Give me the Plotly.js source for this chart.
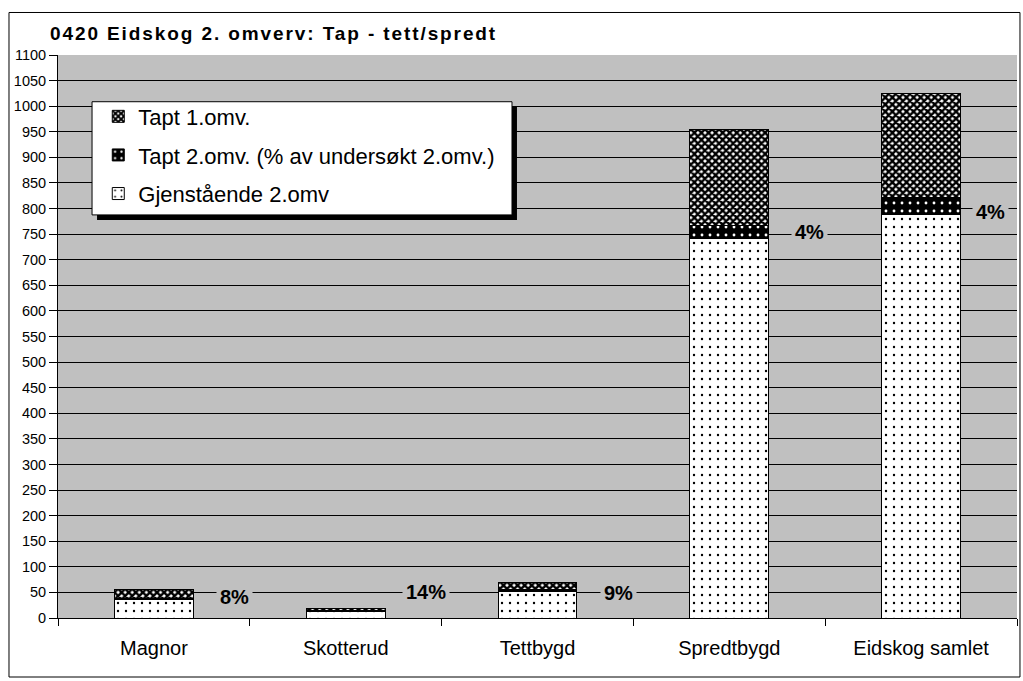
<!DOCTYPE html>
<html>
<head>
<meta charset="utf-8">
<script src="https://cdn.plot.ly/plotly-3.0.1.min.js"></script>
<style>html,body{margin:0;padding:0;background:#fff;}#chart{width:1023px;height:681px;}
.gtitle{letter-spacing:1.9px;}</style>
</head>
<body>
<div id="chart"></div>
<script>
var categories = ["Magnor", "Skotterud", "Tettbygd", "Spredtbygd", "Eidskog samlet"];
var gjenstaende = [36, 12, 51, 742, 788];
var tapt2 = [3, 2, 5, 25, 34];
var tapt1 = [16, 5, 14, 188, 202];
var pctLabels = ["8%", "14%", "9%", "4%", "4%"];
var pctLabelY = [42, 50, 49, 755, 794];
var yTicks = [0,50,100,150,200,250,300,350,400,450,500,550,600,650,700,750,800,850,900,950,1000,1050,1100];

var FONT = "Liberation Sans, Arial, sans-serif";
var outline = {color: "#000", width: 1};

var traces = [
  {type: "bar", name: "Gjenstående 2.omv", x: categories, y: gjenstaende, legendgroup: "g3", legendrank: 3,
   marker: {color: "#fff", line: outline, pattern: {shape: ".", bgcolor: "#fff", fgcolor: "#000", size: 8, solidity: 0.07, fillmode: "replace"}},
   hoverinfo: "y"},
  {type: "bar", name: "Tapt 2.omv. (% av undersøkt 2.omv.)", x: categories, y: tapt2, legendgroup: "g2", legendrank: 2,
   marker: {color: "#000", line: outline, pattern: {shape: ".", bgcolor: "#000", fgcolor: "#fff", size: 8, solidity: 0.1, fillmode: "replace"}},
   hoverinfo: "y"},
  {type: "bar", name: "Tapt 1.omv.", x: categories, y: tapt1, legendgroup: "g1", legendrank: 1,
   marker: {color: "#fff", line: outline, pattern: {shape: "x", bgcolor: "#fff", fgcolor: "#000", size: 5, solidity: 0.72, fillmode: "replace"}},
   hoverinfo: "y"}
];

var xOff = [0.42, 0.42, 0.42, 0.42, 0.36];
var annotations = categories.map(function (c, i) {
  return {x: i + xOff[i], y: pctLabelY[i], xref: "x", yref: "y", text: pctLabels[i], showarrow: false,
          font: {family: FONT, size: 20, color: "#000", weight: "bold"}, bgcolor: "#c0c0c0", borderpad: 3,
          xanchor: "center", yanchor: "middle"};
});

var layout = {
  width: 1023, height: 681,
  margin: {l: 58, r: 6, t: 55, b: 63},
  paper_bgcolor: "#fff",
  plot_bgcolor: "#c0c0c0",
  barmode: "stack",
  bargap: 0.59,
  font: {family: FONT, color: "#000"},
  title: {text: "<b>0420 Eidskog 2. omverv: Tap - tett/spredt</b>", x: 50/1023, xanchor: "left", xref: "container",
          y: 1 - 33/681, yanchor: "middle", yref: "container", font: {family: FONT, size: 19, color: "#000"}},
  xaxis: {type: "category", showline: true, linecolor: "#000", linewidth: 1, ticks: "outside", tickson: "boundaries",
          ticklen: 7, tickcolor: "#000", tickfont: {family: FONT, size: 20, color: "#000"}, showgrid: false,
          ticklabelstandoff: 12, range: [-0.5, 4.5]},
  yaxis: {range: [0, 1100], tickvals: yTicks, ticktext: yTicks.map(String), showline: true, linecolor: "#000", linewidth: 1,
          ticks: "outside", ticklen: 8, tickcolor: "#000", showgrid: true, gridcolor: "#000", gridwidth: 1,
          zeroline: true, zerolinecolor: "#000", tickfont: {family: FONT, size: 14.5, color: "#000"}},
  legend: {x: 0.042, y: 0.928, xanchor: "left", yanchor: "top", bgcolor: "rgba(0,0,0,0)", borderwidth: 0,
           traceorder: "grouped", tracegroupgap: 7, font: {family: FONT, size: 22, color: "#000"}},
  shapes: [
    {type: "rect", xref: "paper", yref: "paper", x0: 0.0407, x1: 0.4786, y0: 0.707, y1: 0.9076,
     fillcolor: "#000", line: {width: 0}, layer: "above"},
    {type: "rect", xref: "paper", yref: "paper", x0: 0.0355, x1: 0.4734, y0: 0.716, y1: 0.917,
     fillcolor: "#fff", line: {color: "#000", width: 1}, layer: "above"},
    {type: "rect", xref: "paper", yref: "paper", x0: -0.0511, x1: 1.0031, y0: -0.1048, y1: 1.0755,
     fillcolor: "rgba(0,0,0,0)", line: {color: "#000", width: 1}, layer: "above"}
  ],
  annotations: annotations,
  showlegend: true
};

Plotly.newPlot("chart", traces, layout, {displayModeBar: false, staticPlot: true});
</script>
</body>
</html>
